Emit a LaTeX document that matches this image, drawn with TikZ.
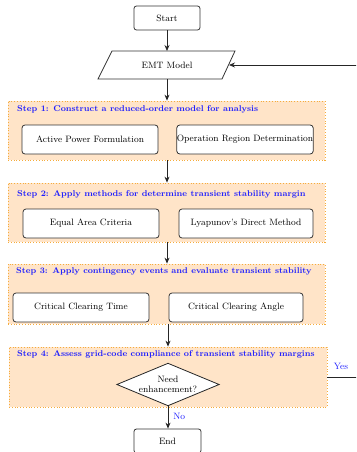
\documentclass[tikz,border=0pt]{standalone}
\usetikzlibrary{arrows.meta,shapes.geometric}
\definecolor{peach}{RGB}{255,228,200}
\definecolor{dotor}{RGB}{245,172,60}
\definecolor{ttl}{RGB}{30,30,255}
\tikzset{
  every node/.style={font=\fontsize{9.2}{11}\selectfont},
  term/.style={draw=black!80, line width=0.8pt, rounded corners=2.5pt, fill=white, minimum width=66pt, minimum height=24pt, inner sep=0pt},
  inbox/.style={draw=black!80, line width=0.8pt, rounded corners=3pt, fill=white, minimum width=136pt, minimum height=29pt, inner sep=0pt},
  stepbox/.style={draw=dotor, dotted, line width=0.8pt, fill=peach, inner sep=0pt},
  ttlstyle/.style={anchor=west, text=ttl, font=\fontsize{8.4}{10}\selectfont\bfseries, inner sep=0pt},
  arr/.style={draw=black!85, line width=0.8pt, -{Stealth[length=6pt,width=5pt]}},
  lbl/.style={text=ttl, inner sep=0pt},
}
\begin{document}
\begin{tikzpicture}[x=1pt,y=-1pt]
\path[use as bounding box] (0,0) rectangle (356,452);
\clip (0,0) rectangle (356,452);
% start
\node[term] (start) at (167,18) {Start};
% EMT parallelogram
\draw[draw=black!80, line width=0.8pt, fill=white] (112,51) -- (235,51) -- (222,79) -- (98,79) -- cycle;
\node[minimum width=110pt, minimum height=28pt, inner sep=0pt] (emt) at (167,65) {EMT Model};
\coordinate (emtE) at (229,65);
% step boxes
\node[stepbox, minimum width=317pt, minimum height=59pt] (s1) at (166.5,130.5) {};
\node[stepbox, minimum width=317pt, minimum height=59pt] (s2) at (166.5,212.5) {};
\node[stepbox, minimum width=317pt, minimum height=60pt] (s3) at (166.5,294) {};
\node[stepbox, minimum width=318pt, minimum height=60pt] (s4) at (168,377) {};
% titles
\node[ttlstyle] (t1) at (17,109) {Step 1: Construct a reduced-order model for analysis};
\node[ttlstyle] (t2) at (17,194) {Step 2: Apply methods for determine transient stability margin};
\node[ttlstyle] (t3) at (16,271) {Step 3: Apply contingency events and evaluate transient stability};
\node[ttlstyle] (t4) at (17,354) {Step 4: Assess grid-code compliance of transient stability margins};
% inner boxes
\node[inbox] (apf) at (90,139.5) {Active Power Formulation};
\node[inbox, minimum width=134pt] (ord) at (245,139.5) {Operation Region Determination};
\node[inbox] (eac) at (91,223.5) {Equal Area Criteria};
\node[inbox, minimum width=134pt] (lya) at (246,223.5) {Lyapunov's Direct Method};
\node[inbox] (cct) at (81,307.5) {Critical Clearing Time};
\node[inbox, minimum width=134pt] (cca) at (236,307.5) {Critical Clearing Angle};
% decision
\node[diamond, draw=black!85, line width=0.8pt, fill=white, aspect=2.4, inner sep=0.5pt, minimum width=99pt, minimum height=41pt, align=center, font=\fontsize{9.2}{10.5}\selectfont] (dec) at (168,384.5) {Need\\enhancement?};
% end
\node[term, minimum width=67pt] (end) at (167.5,441) {End};
% arrows
\draw[arr] (start.south) -- (167,51);
\draw[arr] (emt.south) -- (s1.north -| emt.south);
\draw[arr] (s1.south -| emt.south) -- (s2.north -| emt.south);
\draw[arr] (s2.south -| emt.south) -- (s3.north -| emt.south);
\draw[arr] (s3.south -| dec.north) -- (s4.north -| dec.north);
\draw[arr] (dec.south) -- (end.north -| dec.south) node[lbl, pos=0.45, right=5pt] {No};
\draw[arr] (s4.east) -- (380,377) |- (emtE);
\node[lbl] (yes) at (341,366) {Yes};
\end{tikzpicture}
\end{document}
